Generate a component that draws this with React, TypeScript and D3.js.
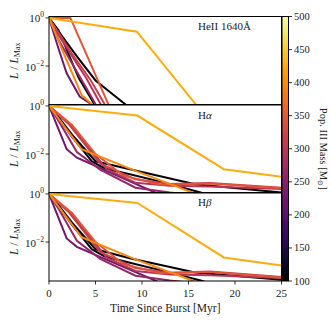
import React, { useEffect, useRef } from 'react';
import * as d3 from 'd3';

// Pop. III mass of each model [Msun]
const masses = [105, 115, 225, 265, 295, 315, 345, 395, 425];

// time since burst [Myr] and log10(L/Lmax)
const heiiT = [
  [0, 1, 3, 5, 8.4, 9.5],
  [0, 1, 3.2, 4.9, 5.4],
  [0, 1, 1.9, 3.3, 4.6, 5],
  [0, 1, 2.5, 4, 5.6],
  [0, 1, 2.5, 4, 6],
  [0, 1, 2.5, 4.5, 6.3],
  [0, 2.3, 6.4, 6.8],
  [0, 1.5, 3.5, 4.8, 5.2],
  [0, 9.45, 15.8, 16.5],
];
const heiiL = [
  [0, -0.55, -1.6, -2.6, -3.65, -4.0],
  [0, -0.5, -2.5, -3.6, -4.2],
  [0, -1.25, -2.3, -3.27, -3.6, -4.0],
  [0, -0.9, -1.9, -2.9, -4.0],
  [0, -0.7, -1.6, -2.5, -3.9],
  [0, -0.6, -1.5, -2.6, -3.8],
  [0, 0, -3.6, -4.0],
  [0, -1.4, -3.2, -3.65, -4.2],
  [0, -0.57, -3.6, -4.0],
];

const haT = [
  [0, 1, 2.5, 5, 8.7, 15.7, 25],
  [0, 1, 2.5, 4.6, 6, 8.7, 12.5, 16.3, 18],
  [0, 1.9, 3, 7.8, 11.4, 12],
  [0, 1, 3, 5.5, 9.3, 13, 20],
  [0, 2.1, 6.2, 9.3, 13, 17.3, 25],
  [0, 2.1, 5.5, 9.3, 13, 17.3, 25],
  [0, 2.5, 5, 8, 12, 17.3, 25],
  [0, 3.5, 9.3, 15.4, 16],
  [0, 9.5, 18.8, 25],
];
const haL = [
  [0, -0.45, -1.2, -2.3, -2.63, -3.26, -3.6],
  [0, -0.5, -1.3, -2.3, -2.6, -2.84, -3.2, -3.6, -3.8],
  [0, -1.8, -2.15, -2.98, -3.6, -3.7],
  [0, -0.6, -1.92, -2.65, -3.4, -3.6, -3.9],
  [0, -0.7, -2.63, -3.19, -3.32, -3.35, -3.45],
  [0, -0.75, -2.4, -3.05, -3.25, -3.2, -3.4],
  [0, -0.8, -2.0, -2.9, -3.28, -3.22, -3.42],
  [0, -1.8, -2.7, -3.6, -3.7],
  [0, -0.4, -2.63, -2.94],
];

const hbT = haT;
const hbL = [
  [0, -0.45, -1.2, -2.3, -2.67, -3.27, -3.57],
  [0, -0.5, -1.3, -2.3, -2.6, -2.86, -3.22, -3.6, -3.8],
  [0, -1.85, -2.2, -3.0, -3.6, -3.7],
  [0, -0.6, -1.95, -2.7, -3.4, -3.6, -3.9],
  [0, -0.7, -2.65, -3.2, -3.35, -3.38, -3.5],
  [0, -0.75, -2.42, -3.08, -3.28, -3.22, -3.45],
  [0, -0.8, -2.0, -2.92, -3.3, -3.25, -3.47],
  [0, -1.8, -2.72, -3.6, -3.7],
  [0, -0.375, -2.64, -2.98],
];

const panels = [
  { name: 'heii', t: heiiT, l: heiiL },
  { name: 'ha', t: haT, l: haL },
  { name: 'hb', t: hbT, l: hbL },
];

const xTicks = [0, 5, 10, 15, 20, 25];
const yTicks = [0, -2];
const cbTicks = [100, 150, 200, 250, 300, 350, 400, 450, 500];

const FONT = "'Liberation Serif', 'Times New Roman', serif";

const App = () => {
  const svgRef = useRef(null);

  useEffect(() => {
    const svg = d3.select(svgRef.current);
    svg.selectAll('*').remove();

    const left = 49, right = 281.5;
    const tops = [16.5, 104.5, 192.5];
    const ph = 88.5;

    const x = d3.scaleLinear().domain([0, 25]).range([left, right]);
    const color = d3.scaleSequential(d3.interpolateInferno).domain([100, 500]);

    const defs = svg.append('defs');

    panels.forEach((p, pi) => {
      const top = tops[pi];
      const y = d3.scaleLinear().domain([-3.62, 0.06]).range([top + ph, top]);

      defs.append('clipPath').attr('id', `clip-${p.name}`)
        .append('rect').attr('x', left).attr('y', top).attr('width', right - left).attr('height', ph);

      const g = svg.append('g').attr('clip-path', `url(#clip-${p.name})`);
      const line = d3.line<number>()
        .x(d => x(d[0]))
        .y(d => y(d[1]));

      masses.forEach((m, i) => {
        const pts = p.t[i].map((t, j) => [t, p.l[i][j]]);
        g.append('path')
          .attr('d', line(pts as any))
          .attr('fill', 'none')
          .attr('stroke', color(m))
          .attr('stroke-width', 2)
          .attr('stroke-linejoin', 'miter');
      });

      // frame
      svg.append('rect')
        .attr('x', left).attr('y', top)
        .attr('width', right - left).attr('height', ph)
        .attr('fill', 'none').attr('stroke', '#000').attr('stroke-width', 1);

      // y ticks
      yTicks.forEach(v => {
        const yy = y(v);
        svg.append('line')
          .attr('x1', left - 3.5).attr('x2', left)
          .attr('y1', yy).attr('y2', yy)
          .attr('stroke', '#000').attr('stroke-width', 0.8);
        const txt = svg.append('text')
          .attr('x', left - 5).attr('y', yy + 4.5)
          .attr('text-anchor', 'end')
          .attr('font-family', FONT).attr('font-size', 11)
          .attr('fill', '#222');
        txt.append('tspan').text('10');
        txt.append('tspan').attr('dy', -5).attr('font-size', 7.5)
          .text(v === 0 ? '0' : '\u2212' + Math.abs(v));
      });

      // y label
      const cy = top + ph / 2;
      const yl = svg.append('text')
        .attr('transform', `translate(18,${cy}) rotate(-90)`)
        .attr('text-anchor', 'middle')
        .attr('font-family', FONT).attr('font-size', 11.5)
        .attr('fill', '#222');
      yl.append('tspan').attr('font-style', 'italic').text('L');
      yl.append('tspan').text(' / ');
      yl.append('tspan').attr('font-style', 'italic').text('L');
      yl.append('tspan').attr('dy', 2).attr('font-size', 8).text('Max');
    });

    // panel labels
    const lbl = (tx, ty, parts) => {
      const t = svg.append('text').attr('x', tx).attr('y', ty)
        .attr('font-family', FONT).attr('font-size', 11).attr('fill', '#222');
      parts.forEach(([s, italic]) => {
        t.append('tspan').attr('font-style', italic ? 'italic' : 'normal').text(s);
      });
    };
    lbl(198, 30, [['HeII 1640\u00C5', false]]);
    lbl(198, 118.5, [['H', false], ['\u03B1', true]]);
    lbl(198, 206, [['H', false], ['\u03B2', true]]);

    // x axis on bottom panel
    const bottom = tops[2] + ph;
    xTicks.forEach(v => {
      svg.append('line')
        .attr('x1', x(v)).attr('x2', x(v))
        .attr('y1', bottom).attr('y2', bottom + 3.5)
        .attr('stroke', '#000').attr('stroke-width', 0.8);
      svg.append('text')
        .attr('x', x(v)).attr('y', bottom + 16)
        .attr('text-anchor', 'middle')
        .attr('font-family', FONT).attr('font-size', 11)
        .attr('fill', '#222')
        .text(v);
    });
    svg.append('text')
      .attr('x', (left + right) / 2).attr('y', bottom + 31)
      .attr('text-anchor', 'middle')
      .attr('font-family', FONT).attr('font-size', 11.5)
      .attr('fill', '#222')
      .text('Time Since Burst [Myr]');

    // colorbar
    const cbX = 282, cbW = 6.5;
    const cbTop = tops[0], cbBottom = bottom;
    const cy = d3.scaleLinear().domain([100, 500]).range([cbBottom, cbTop]);
    const grad = defs.append('linearGradient').attr('id', 'cbgrad')
      .attr('x1', 0).attr('y1', 1).attr('x2', 0).attr('y2', 0);
    d3.range(0, 1.0001, 0.05).forEach(s => {
      grad.append('stop').attr('offset', s).attr('stop-color', d3.interpolateInferno(s));
    });
    svg.append('rect')
      .attr('x', cbX).attr('y', cbTop)
      .attr('width', cbW).attr('height', cbBottom - cbTop)
      .attr('fill', 'url(#cbgrad)')
      .attr('stroke', '#000').attr('stroke-width', 1);
    cbTicks.forEach(v => {
      svg.append('line')
        .attr('x1', cbX + cbW).attr('x2', cbX + cbW + 3.5)
        .attr('y1', cy(v)).attr('y2', cy(v))
        .attr('stroke', '#000').attr('stroke-width', 0.8);
      svg.append('text')
        .attr('x', cbX + cbW + 5.5).attr('y', cy(v) + 3.5)
        .attr('font-family', FONT).attr('font-size', 10.5)
        .attr('fill', '#222')
        .text(v);
    });
    const cl = svg.append('text')
      .attr('transform', `translate(319.5,${(cbTop + cbBottom) / 2}) rotate(90)`)
      .attr('text-anchor', 'middle')
      .attr('font-family', FONT).attr('font-size', 10.5)
      .attr('fill', '#222');
    cl.append('tspan').text('Pop. III Mass [M');
    cl.append('tspan').attr('dy', 1.5).attr('font-size', 7).text('\u2299');
    cl.append('tspan').attr('dy', -1.5).text(']');
  }, []);

  return (
    <svg ref={svgRef} width={331} height={331}
      style={{ position: 'absolute', left: 0, top: 0, background: '#fff' }} />
  );
};

export default App;
